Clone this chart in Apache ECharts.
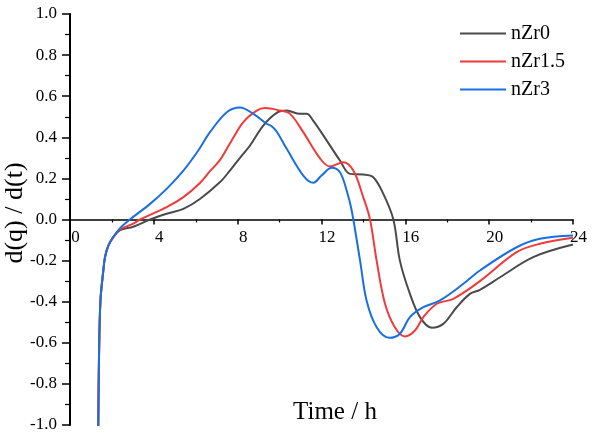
<!DOCTYPE html>
<html>
<head>
<meta charset="utf-8">
<script src="https://cdn.jsdelivr.net/npm/echarts@6/dist/echarts.min.js"></script>
<style>html,body{margin:0;padding:0;background:#fff}#c{width:599px;height:436px}</style>
</head>
<body>
<div id="c"></div>
<script>
const seriesNames = ['nZr0', 'nZr1.5', 'nZr3'];
const xTicks = [0, 4, 8, 12, 16, 20, 24];
const yTicks = [-1.0, -0.8, -0.6, -0.4, -0.2, 0.0, 0.2, 0.4, 0.6, 0.8, 1.0];

const nZr0 = [[1.34,-1.1],[1.38,-0.7],[1.45,-0.4],[1.59,-0.248],[1.67,-0.183],[1.83,-0.127],[2.07,-0.086],[2.39,-0.052],[3.02,-0.035],[3.82,0.0],[4.61,0.028],[5.41,0.052],[6.2,0.1],[7.16,0.182],[7.63,0.238],[8.11,0.30],[8.59,0.36],[9.22,0.457],[9.86,0.519],[10.34,0.53],[10.97,0.514],[11.29,0.514],[11.61,0.48],[12.25,0.384],[12.88,0.287],[13.36,0.222],[13.99,0.219],[14.47,0.206],[14.95,0.125],[15.43,0.0],[15.74,-0.2],[16.22,-0.362],[16.7,-0.475],[17.26,-0.527],[17.81,-0.508],[18.45,-0.427],[19.08,-0.362],[19.56,-0.342],[20.52,-0.281],[22.1,-0.183],[24.0,-0.122]];

const nZr15 = [[1.34,-1.1],[1.38,-0.7],[1.45,-0.4],[1.59,-0.248],[1.67,-0.183],[1.83,-0.127],[2.07,-0.086],[2.39,-0.048],[3.02,-0.02],[3.34,0.0],[4.61,0.06],[5.41,0.109],[6.2,0.178],[6.68,0.235],[7.16,0.29],[7.63,0.37],[8.27,0.474],[8.91,0.53],[9.3,0.542],[10.02,0.53],[10.5,0.514],[11.13,0.425],[11.93,0.297],[12.4,0.258],[13.04,0.279],[13.52,0.238],[13.99,0.109],[14.31,0.003],[14.63,-0.2],[15.03,-0.41],[15.5,-0.524],[15.98,-0.569],[16.46,-0.54],[16.86,-0.475],[17.5,-0.41],[18.29,-0.386],[19.56,-0.3],[21.31,-0.159],[22.42,-0.118],[24.0,-0.089]];

const nZr3 = [[1.34,-1.1],[1.38,-0.7],[1.45,-0.4],[1.59,-0.248],[1.67,-0.183],[1.83,-0.127],[2.07,-0.084],[2.39,-0.042],[2.86,0.0],[3.82,0.076],[4.61,0.149],[5.41,0.238],[6.12,0.336],[6.68,0.425],[7.48,0.522],[8.11,0.545],[8.75,0.514],[9.38,0.466],[9.62,0.454],[9.86,0.428],[10.34,0.344],[11.13,0.214],[11.61,0.179],[12.0,0.214],[12.49,0.252],[12.88,0.23],[13.2,0.141],[13.44,0.044],[13.84,-0.2],[14.15,-0.394],[14.63,-0.524],[15.24,-0.576],[15.74,-0.556],[16.22,-0.475],[16.86,-0.427],[17.65,-0.394],[18.77,-0.313],[19.56,-0.248],[21.31,-0.135],[22.42,-0.094],[24.0,-0.078]];

const colors = ['#4a4a4a', '#ef3b3b', '#1a6fe0'];
const dataSets = [nZr0, nZr15, nZr3];
const font = 'Liberation Serif, Times New Roman, serif';

const chart = echarts.init(document.getElementById('c'), null, {renderer: 'canvas'});
chart.setOption({
  animation: false,
  backgroundColor: '#fff',
  grid: {left: 70, right: 26, top: 14, bottom: 11, containLabel: false, outerBoundsMode: 'none'},
  legend: {
    orient: 'vertical', left: 455, top: 18,
    icon: 'rect', itemWidth: 46, itemHeight: 2, itemGap: 7,
    textStyle: {fontFamily: font, fontSize: 20, color: '#000', lineHeight: 21},
    data: seriesNames
  },
  xAxis: {
    type: 'value', min: xTicks[0], max: xTicks[xTicks.length-1], interval: 4,
    position: 'bottom', offset: -205.5,
    name: 'Time / h', nameLocation: 'middle', nameGap: 180, nameMoveOverlap: false,
    nameTextStyle: {fontFamily: font, fontSize: 25, color: '#000', padding: [0,0,0,27]},
    axisLine: {onZero: false, lineStyle: {color: '#000', width: 1.5}},
    axisTick: {show: true, inside: false, length: 5, lineStyle: {color: '#000', width: 1.5}},
    minorTick: {show: true, splitNumber: 2, length: 3, lineStyle: {color: '#000', width: 1.2}},
    axisLabel: {fontFamily: font, fontSize: 17, color: '#000', margin: 10, padding: [0,0,0,11]},
    splitLine: {show: false}
  },
  yAxis: {
    type: 'value', min: yTicks[0], max: yTicks[yTicks.length-1], interval: 0.2,
    name: 'd(q) / d(t)', nameLocation: 'middle', nameGap: 42, nameMoveOverlap: false,
    nameTextStyle: {fontFamily: font, fontSize: 26, color: '#000', padding: [0,0,0,13]},
    axisLine: {onZero: false, lineStyle: {color: '#000', width: 2}},
    axisTick: {show: true, inside: false, length: 8, lineStyle: {color: '#000', width: 1.5}},
    minorTick: {show: true, splitNumber: 2, length: 5, lineStyle: {color: '#000', width: 1.2}},
    axisLabel: {fontFamily: font, fontSize: 17, color: '#000', margin: 13,
      formatter: v => v.toFixed(1)},
    splitLine: {show: false}
  },
  series: dataSets.map((d, i) => ({
    name: seriesNames[i], type: 'line', data: d, smooth: 0.35,
    symbol: 'none', showSymbol: false, clip: true,
    lineStyle: {color: colors[i], width: 2},
    itemStyle: {color: colors[i]}
  }))
});
</script>
</body>
</html>
